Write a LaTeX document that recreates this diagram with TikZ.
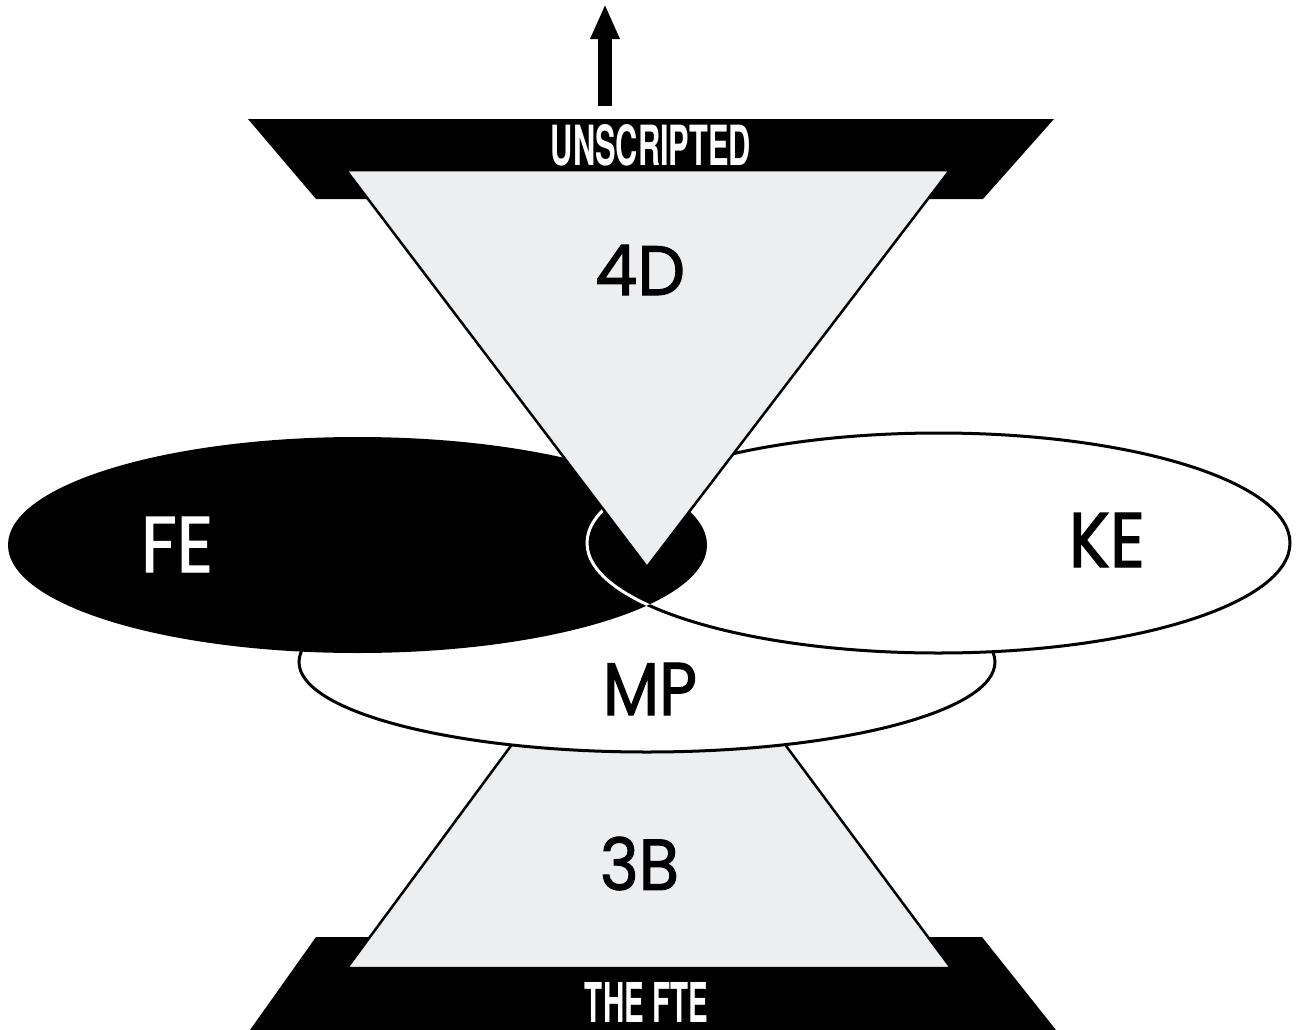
\documentclass[tikz,border=0pt]{standalone}
\usepackage{fontspec}
\usepackage{graphicx}
\setmainfont{Poppins}
\newfontfamily\labelfont[FakeBold=1.6]{Poppins}
\newfontfamily\bandfont{TeX Gyre Heros}
\usetikzlibrary{arrows.meta}
\definecolor{panelgray}{RGB}{237,238,240}
\tikzset{
  lbl/.style={inner sep=0pt, outer sep=0pt, font=\labelfont},
  outl/.style={line width=0.03cm},
  graypanel/.style={fill=panelgray, draw=black, line width=0.025cm, line join=miter},
  whiteoval/.style={fill=white, draw=black, outl},
}
\begin{document}
\begin{tikzpicture}[x=0.01cm,y=-0.01cm]
\useasboundingbox (0,0) rectangle (1296,1030);
% bottom band
\fill[black] (316,937) -- (982,937) -- (1056,1030) -- (250,1030) -- cycle;
% lower triangle (hourglass bottom)
\filldraw[graypanel] (648,560) -- (951,968) -- (347,968) -- cycle;
% MP oval
\filldraw[whiteoval] (647,662) ellipse [x radius=348, y radius=90];
% KE oval
\filldraw[whiteoval] (938.5,543) ellipse [x radius=351.5, y radius=110];
% FE oval
\fill[black] (357.5,545) ellipse [x radius=349.5, y radius=108];
\begin{scope}
  \clip (357.5,545) ellipse [x radius=349.5, y radius=108];
  \draw[white, outl] (938.5,543) ellipse [x radius=351.5, y radius=110];
\end{scope}
% top band
\fill[black] (248,119) -- (1054,119) -- (983,199) -- (316,199) -- cycle;
% top triangle
\filldraw[graypanel] (346,170) -- (950,170) -- (647,567) -- cycle;
% arrow
\coordinate (arrowfoot) at (605,106);
\coordinate (arrowtip) at (605,4);
\draw[line width=0.14cm, -{Triangle[width=0.27cm,length=0.35cm]}] (arrowfoot) -- (arrowtip);
% labels
\node[lbl, text=white] (unscripted) at (651,145.5) {\resizebox{2.00cm}{0.41cm}{\bandfont\bfseries UNSCRIPTED}};
\node[lbl, text=white] (thefte) at (646.5,1002) {\resizebox{1.23cm}{0.40cm}{\bandfont\bfseries THE FTE}};
\node[lbl] (fourd) at (640,270) {\resizebox{0.90cm}{0.50cm}{4D}};
\node[lbl, text=white] (fe) at (177,544.5) {\resizebox{0.72cm}{0.55cm}{FE}};
\node[lbl] (ke) at (1107,540) {\resizebox{0.76cm}{0.54cm}{KE}};
\node[lbl] (mp) at (650,689) {\resizebox{0.94cm}{0.52cm}{MP}};
\node[lbl] (threeb) at (639.5,863.5) {\resizebox{0.79cm}{0.53cm}{3B}};
\end{tikzpicture}
\end{document}
